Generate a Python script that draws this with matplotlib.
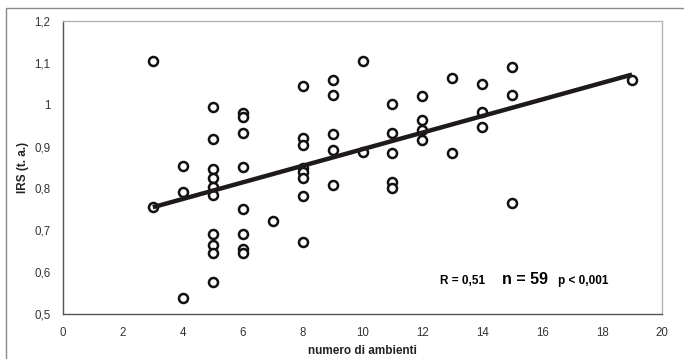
import numpy as np
import matplotlib.pyplot as plt
from matplotlib.patches import Rectangle

plt.rcParams['font.family'] = ['Liberation Sans', 'DejaVu Sans']

# numero di ambienti (x) e IRS (y)
x_vals = [3, 3,
          4, 4, 4,
          5, 5, 5, 5, 5, 5, 5, 5, 5, 5,
          6, 6, 6, 6, 6, 6, 6, 6,
          7,
          8, 8, 8, 8, 8, 8, 8, 8,
          9, 9, 9, 9, 9,
          10, 10,
          11, 11, 11, 11, 11,
          12, 12, 12, 12,
          13, 13,
          14, 14, 14,
          15, 15, 15,
          19]
y_vals = [1.104, 0.756,
          0.854, 0.791, 0.538,
          0.994, 0.918, 0.846, 0.825, 0.803, 0.784, 0.691, 0.665, 0.646, 0.576,
          0.980, 0.971, 0.932, 0.851, 0.751, 0.691, 0.655, 0.646,
          0.722,
          1.045, 0.920, 0.904, 0.849, 0.840, 0.825, 0.782, 0.672,
          1.059, 1.023, 0.930, 0.892, 0.808,
          1.104, 0.887,
          1.002, 0.932, 0.885, 0.815, 0.801,
          1.021, 0.963, 0.940, 0.916,
          1.064, 0.885,
          1.050, 0.983, 0.947,
          1.090, 1.023, 0.765,
          1.059]

# retta di regressione
fit_x = [3, 19]
fit_y = [0.755, 1.072]

x_ticks = [0, 2, 4, 6, 8, 10, 12, 14, 16, 18, 20]
y_ticks = [0.5, 0.6, 0.7, 0.8, 0.9, 1.0, 1.1, 1.2]
y_ticklabels = ['0,5', '0,6', '0,7', '0,8', '0,9', '1', '1,1', '1,2']

fig = plt.figure(figsize=(6.84, 3.59), dpi=100)
ax = fig.add_axes([63/684, 1 - 314/359, (662 - 63)/684, (314 - 21)/359])

# cornice esterna
fig.patches.append(Rectangle((6/684, -0.01), 1.0, 1 - 8/359 + 0.01,
                             transform=fig.transFigure, fill=False,
                             edgecolor='#8a8a8a', linewidth=1.0))

ax.plot(x_vals, y_vals, 'o', markersize=6.5, markerfacecolor='white',
        markeredgecolor='#111111', markeredgewidth=1.8, zorder=2)
ax.plot(fit_x, fit_y, '-', color='#1e1a1a', linewidth=3.2,
        solid_capstyle='butt', zorder=3)

ax.set_xlim(0, 20)
ax.set_ylim(0.5, 1.2)
ax.set_xticks(x_ticks)
ax.set_xticklabels([str(t) for t in x_ticks])
ax.set_yticks(y_ticks)
ax.set_yticklabels(y_ticklabels)
ax.tick_params(length=0, labelsize=8.3, labelcolor='#333333', pad=9)

for s in ['left', 'bottom']:
    ax.spines[s].set_color('#555555')
    ax.spines[s].set_linewidth(1.0)
for s in ['top', 'right']:
    ax.spines[s].set_color('#b5b5b5')
    ax.spines[s].set_linewidth(1.0)

ax.set_xlabel('numero di ambienti', fontsize=8.5, fontweight='bold',
              color='#222222', labelpad=5)
ax.set_ylabel('IRS (t. a.)', fontsize=8.5, fontweight='bold',
              color='#222222', labelpad=4)

ax.text(440/684, 1 - 281/359, 'R = 0,51', transform=fig.transFigure,
        fontsize=8.5, fontweight='bold', va='center', ha='left')
ax.text(502/684, 1 - 280/359, 'n = 59', transform=fig.transFigure,
        fontsize=11.5, fontweight='bold', va='center', ha='left')
ax.text(558/684, 1 - 281/359, 'p < 0,001', transform=fig.transFigure,
        fontsize=8.5, fontweight='bold', va='center', ha='left')

fig.savefig('out.png', dpi=100)
